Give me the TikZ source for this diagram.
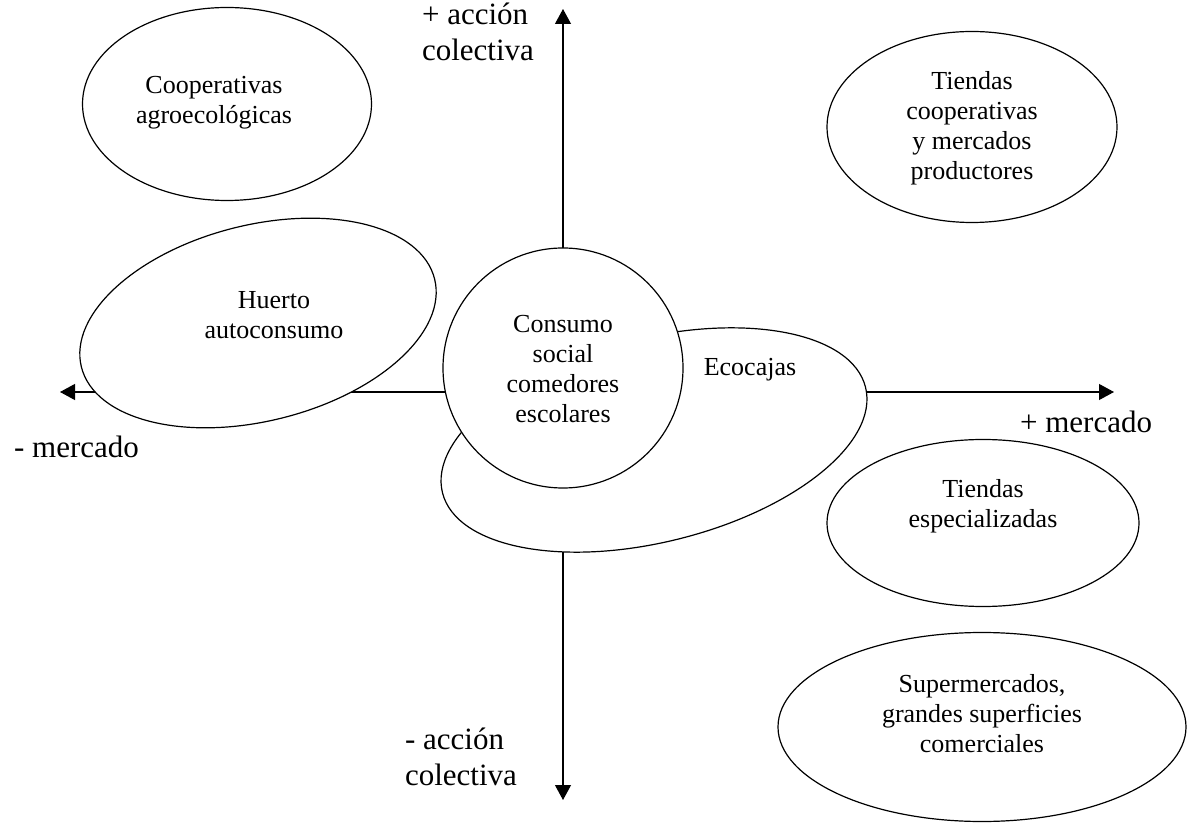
\documentclass[tikz,border=0pt]{standalone}
\usepackage{fontspec}
\setmainfont{Liberation Serif}
\usetikzlibrary{shapes.geometric, arrows.meta}

\begin{document}
\begin{tikzpicture}[x=0.5pt, y=-0.5pt,
    bubble/.style={ellipse, draw, fill=white, line width=0.6pt, inner sep=0pt},
    axis/.style={line width=0.55pt, {Triangle[length=7.5pt,width=8pt]}-{Triangle[length=7.5pt,width=8pt]}},
    txt/.style={align=center, font=\fontsize{13}{15}\selectfont},
    axlabel/.style={align=left, anchor=west, font=\fontsize{15.5}{18}\selectfont}]
    \useasboundingbox (0,0) rectangle (1189,823);

    % axes
    \coordinate (north) at (563,9);
    \coordinate (south) at (563,800);
    \coordinate (west) at (60,392);
    \coordinate (east) at (1114,392);
    \draw[axis] (west) -- (east);
    \draw[axis] (south) -- (north);

    % bubbles
    \node[bubble, minimum width=144.5pt, minimum height=96.5pt] (coop) at (227,104) {};
    \node[bubble, minimum width=145pt, minimum height=95.5pt] (tcoop) at (972,127) {};
    \node[bubble, minimum width=182pt, minimum height=98pt, rotate=14] (huerto) at (258,323) {};
    \node[bubble, minimum width=218pt, minimum height=102pt, rotate=14] (ecocajas) at (654,440) {};
    \node[bubble, circle, minimum size=120pt] (consumo) at (563,368) {};
    \node[bubble, minimum width=156pt, minimum height=83.5pt] (tesp) at (983,523) {};
    \node[bubble, minimum width=204pt, minimum height=94.5pt] (super) at (982,727) {};

    % texts
    \node[txt] (coopText) at (214,103) {Cooperativas\\agroecológicas};
    \node[txt] (tcoopText) at (972,128) {Tiendas\\cooperativas\\y mercados\\productores};
    \node[txt] (huertoText) at (274,315) {Huerto\\autoconsumo};
    \node[txt] (consumoText) at (563,369) {Consumo\\social\\comedores\\escolares};
    \node[txt] (ecocajasText) at (750,370) {Ecocajas};
    \node[txt] (tespText) at (983,506) {Tiendas\\especializadas};
    \node[txt] (superText) at (982,714) {Supermercados,\\grandes superficies\\comerciales};

    % axis labels
    \node[axlabel] (masAccion) at (415,32) {+ acción\\colectiva};
    \node[axlabel] (menosAccion) at (398,757) {- acción\\colectiva};
    \node[axlabel] (masMercado) at (1013,422) {+ mercado};
    \node[axlabel] (menosMercado) at (7,447) {- mercado};
\end{tikzpicture}
\end{document}
